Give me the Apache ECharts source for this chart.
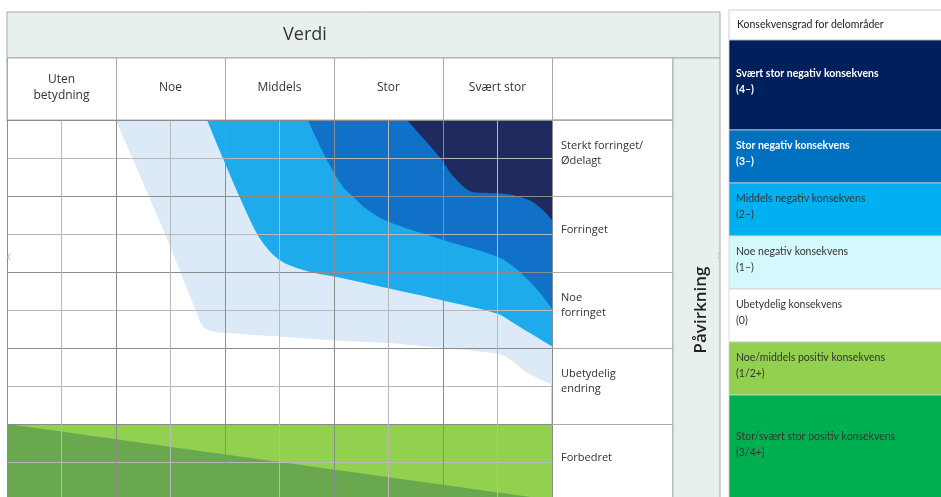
<!DOCTYPE html>
<html><head><meta charset="utf-8">
<script src="https://cdn.jsdelivr.net/npm/echarts@6/dist/echarts.min.js"></script>
<style>html,body{margin:0;padding:0;background:#fff}#c{width:941px;height:497px}</style>
</head><body><div id="c"></div>
<script>
// ---- data ----
const columnLabels = ['Uten\nbetydning', 'Noe', 'Middels', 'Stor', 'Svært stor'];
const rowLabels = ['Sterkt forringet/\nØdelagt', 'Forringet', 'Noe\nforringet', 'Ubetydelig\nendring', 'Forbedret'];
// boundaries of the consequence fan, [value column, impact row] (10 sub-columns x 10 sub-rows)
const noeNegEdge = [[2,0],[2.3,1],[2.6,2],[2.9,3],[3.18,4],[3.46,5],[3.6,5.44],[3.8,5.57],[4,5.6],[5,5.7],[6,5.8],[7,5.87],[8,6.0],[9,6.15],[9.2,6.26],[9.55,6.66],[10,6.96]];
const middelsNegEdge = [[3.67,0],[3.96,1],[4.26,2],[4.59,3],[4.85,3.5],[5.1,3.77],[5.57,4],[6,4.12],[7,4.43],[8,4.75],[9,5.1],[9.3,5.35],[9.7,5.7],[10,5.96]];
const storNegEdge = [[5.52,0],[5.85,1],[6.16,1.75],[6.36,2.03],[6.62,2.37],[7,2.68],[8,3.16],[9,3.6],[9.37,3.95],[9.76,4.52],[10,4.97]];
const svaertStorNegEdge = [[7.34,0],[7.67,0.53],[7.95,1.0],[8.2,1.5],[8.55,1.9],[9,1.93],[9.3,1.98],[9.6,2.12],[9.83,2.37],[10,2.63]];
const positiveTop = [[0,8],[10,8]];
const strongPositiveEdge = [[0,8],[10,10]];

const legendTitle = 'Konsekvensgrad for delområder';
const legendLabels = ['Svært stor negativ konsekvens','Stor negativ konsekvens','Middels negativ konsekvens','Noe negativ konsekvens','Ubetydelig konsekvens','Noe/middels positiv konsekvens','Stor/svært stor positiv konsekvens'];
const legendCodes = ['(4–)','(3–)','(2–)','(1–)','(0)','(1/2+)','(3/4+)'];
const legendColors = ['#00205c','#0070c0','#00b0f0','#d4f9fd','#ffffff','#92d050','#00b050'];
const legendTextColors = ['#ffffff','#ffffff','#333333','#333333','#333333','#333333','#333333'];

// ---- layout ----
const GL = 7, GT = 120, GW = 545, GH = 380;
const legendTops = [40,130,183,236,289,342,395,500];
const font = 'Open Sans';

const chart = echarts.init(document.getElementById('c'), null, {renderer:'canvas'});

function band(data, color, origin, z) {
  return {type:'line', data, smooth:0.3, symbol:'none', showSymbol:false, silent:true,
    lineStyle:{width:0, color}, areaStyle:{color, opacity:1, origin}, z, animation:false};
}

const graphic = [];
// Verdi header
graphic.push({type:'rect', shape:{x:GL, y:12, width:713, height:46}, style:{fill:'#e8f0ef', stroke:'#a9a9a9', lineWidth:1}, z:-10});
graphic.push({type:'text', x:305, y:35, style:{text:'Verdi', font:'18px "'+font+'"', fill:'#333', align:'center', verticalAlign:'middle'}});
// header row frame
graphic.push({type:'rect', shape:{x:GL, y:58, width:666, height:62}, style:{fill:'#fff', stroke:'#a9a9a9', lineWidth:1}, z:-10});
// label column frame
graphic.push({type:'rect', shape:{x:GL+GW, y:GT, width:121, height:GH}, style:{fill:'none', stroke:'#a9a9a9', lineWidth:1}, z:-10});
// Påvirkning column
graphic.push({type:'rect', shape:{x:673, y:58, width:47, height:445}, style:{fill:'#e8f0ef', stroke:'#a9a9a9', lineWidth:1}, z:-10});
graphic.push({type:'text', x:701, y:310, rotation:Math.PI/2, style:{text:'Påvirkning', font:'600 17px "'+font+'"', fill:'#222', align:'center', verticalAlign:'middle'}});
// slider arrows
graphic.push({type:'text', x:9, y:256, z:20, style:{text:'‹', font:'16px "'+font+'"', fill:'#c4c4c4', align:'center', verticalAlign:'middle'}});
graphic.push({type:'text', x:719, y:255, z:20, style:{text:'›', font:'16px "'+font+'"', fill:'#c4c4c4', align:'center', verticalAlign:'middle'}});
// legend
graphic.push({type:'rect', shape:{x:729, y:10, width:215, height:30}, style:{fill:'#fff', stroke:'#cfcfcf', lineWidth:1}});
graphic.push({type:'text', x:737, y:25, style:{text:legendTitle, font:'10.5px Lato', fill:'#222', verticalAlign:'middle'}});
legendLabels.forEach((lab, i) => {
  const t = legendTops[i], h = legendTops[i+1] - t;
  graphic.push({type:'rect', shape:{x:729, y:t, width:215, height:h}, style:{fill:legendColors[i], stroke:'#d0d0d0', lineWidth:0.8}});
  const white = legendTextColors[i] === '#ffffff';
  graphic.push({type:'text', x:736, y:t + h/2 - 3, style:{text:lab + '\n' + legendCodes[i], font:(white?'bold ':'')+'10.5px Lato', lineHeight:16, fill:legendTextColors[i], verticalAlign:'middle'}});
});

chart.setOption({
  animation:false,
  grid:{left:GL, top:GT, width:GW, height:GH, containLabel:false, outerBoundsMode:'none'},
  xAxis:[
    {type:'value', min:0, max:10, interval:1, z:10,
     axisLine:{show:false}, axisTick:{show:false}, axisLabel:{show:false},
     splitLine:{show:true, lineStyle:{color:['#8c8c8c','#b8b8b8'], width:1}}},
    {type:'category', data:columnLabels, position:'top', boundaryGap:true, z:10,
     axisLine:{show:true, lineStyle:{color:'#8c8c8c'}},
     axisTick:{show:true, length:62, inside:false, lineStyle:{color:'#a9a9a9'}},
     axisLabel:{margin:32, verticalAlign:'middle', fontFamily:font, fontSize:12, color:'#333', lineHeight:16},
     splitLine:{show:false}}
  ],
  yAxis:[
    {type:'value', min:0, max:10, interval:1, inverse:true, z:10,
     axisLine:{show:false}, axisTick:{show:false}, axisLabel:{show:false},
     splitLine:{show:true, lineStyle:{color:['#8c8c8c','#b8b8b8'], width:1}}},
    {type:'category', data:rowLabels, inverse:true, position:'right', boundaryGap:true, z:10,
     axisLine:{show:true, lineStyle:{color:'#8c8c8c'}},
     axisTick:{show:true, length:121, inside:false, lineStyle:{color:'#a9a9a9'}},
     axisLabel:{margin:9, align:'left', verticalAlign:'middle',
       formatter: v => v.split('\n').map(l => '{t|' + l + '}').join('\n') + '\n{s| }',
       rich:{t:{fontFamily:font, fontSize:11, color:'#333', lineHeight:15}, s:{fontSize:1, lineHeight:9}}},
     splitLine:{show:false}}
  ],
  series:[
    band(noeNegEdge, '#dce9f6', 'start', 2),
    band(middelsNegEdge, '#1eabeb', 'start', 3),
    band(storNegEdge, '#1171c9', 'start', 4),
    band(svaertStorNegEdge, '#1f2a5e', 'start', 5),
    band(positiveTop, '#92d050', 'end', 2),
    band(strongPositiveEdge, '#6aa84f', 'end', 3)
  ],
  graphic
});
</script></body></html>
